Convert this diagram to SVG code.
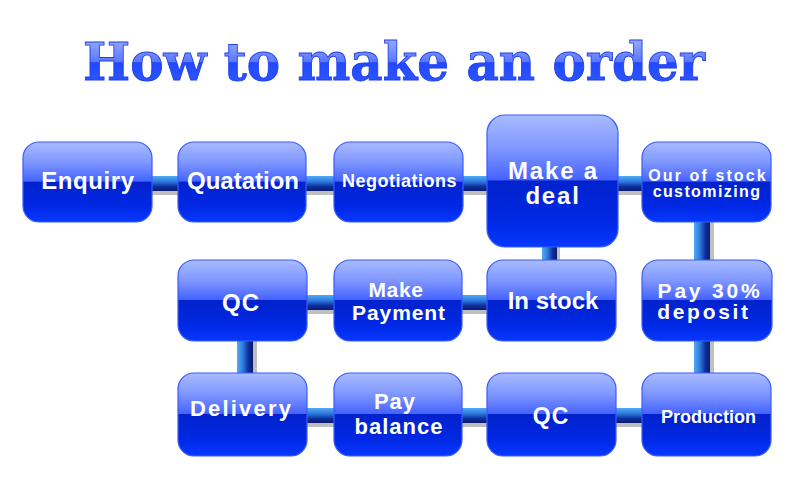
<svg xmlns="http://www.w3.org/2000/svg" width="800" height="500" viewBox="0 0 800 500">
<defs>
<linearGradient id="gNode" x1="0" y1="0" x2="0" y2="1">
<stop offset="0" stop-color="#a9bbff"/>
<stop offset="0.25" stop-color="#8098ff"/>
<stop offset="0.49" stop-color="#4563ff"/>
<stop offset="0.5" stop-color="#0222cc"/>
<stop offset="0.8" stop-color="#0028e4"/>
<stop offset="1" stop-color="#0638ff"/>
</linearGradient>
<linearGradient id="gTubeH" x1="0" y1="0" x2="0" y2="1">
<stop offset="0" stop-color="#55a8f4"/>
<stop offset="0.35" stop-color="#2f7fe2"/>
<stop offset="0.7" stop-color="#10309e"/>
<stop offset="1" stop-color="#091a72"/>
</linearGradient>
<linearGradient id="gTubeV" x1="0" y1="0" x2="1" y2="0">
<stop offset="0" stop-color="#55a8f4"/>
<stop offset="0.35" stop-color="#2f7fe2"/>
<stop offset="0.7" stop-color="#10309e"/>
<stop offset="1" stop-color="#091a72"/>
</linearGradient>
<linearGradient id="gTitle" x1="0" y1="0" x2="0" y2="1">
<stop offset="0" stop-color="#aebdff"/>
<stop offset="0.5" stop-color="#5b78ff"/>
<stop offset="0.52" stop-color="#2348ff"/>
<stop offset="1" stop-color="#2f5cff"/>
</linearGradient>
</defs>
<style>
.node rect { fill: url(#gNode); stroke: #3a5cff; stroke-width: 1.2; }
.node text { fill: #ffffff; font-family: "Liberation Sans", Arial, sans-serif; font-weight: bold; text-anchor: middle; }
.th { fill: url(#gTubeH); }
.tv { fill: url(#gTubeV); }
.sh { fill: #8a8a8a; opacity: 0.55; }
.title { font-family: "DejaVu Serif", "Liberation Serif", serif; font-weight: bold; font-size: 52px; fill: url(#gTitle); stroke: #2040e8; stroke-width: 0.9; }
</style>
<rect width="800" height="500" fill="#ffffff"/>
<text class="title" x="83" y="80" textLength="622" lengthAdjust="spacingAndGlyphs">How to make an order</text>

<g id="connectors">
<rect class="sh" x="148" y="191" width="34" height="4"/>
<rect class="th" x="148" y="176" width="34" height="15"/>
<rect class="sh" x="302" y="191" width="36" height="4"/>
<rect class="th" x="302" y="176" width="36" height="15"/>
<rect class="sh" x="459" y="191" width="32" height="4"/>
<rect class="th" x="459" y="176" width="32" height="15"/>
<rect class="sh" x="614" y="191" width="32" height="4"/>
<rect class="th" x="614" y="176" width="32" height="15"/>
<rect class="sh" x="303" y="310" width="35" height="4"/>
<rect class="th" x="303" y="295" width="35" height="15"/>
<rect class="sh" x="458" y="310" width="33" height="4"/>
<rect class="th" x="458" y="295" width="33" height="15"/>
<rect class="sh" x="303" y="423" width="35" height="4"/>
<rect class="th" x="303" y="408" width="35" height="15"/>
<rect class="sh" x="458" y="423" width="33" height="4"/>
<rect class="th" x="458" y="408" width="33" height="15"/>
<rect class="sh" x="612" y="423" width="34" height="4"/>
<rect class="th" x="612" y="408" width="34" height="15"/>
<rect class="sh" x="557" y="243" width="3" height="21"/>
<rect class="tv" x="542" y="243" width="15" height="21"/>
<rect class="sh" x="710" y="218" width="4" height="46"/>
<rect class="tv" x="694" y="218" width="16" height="46"/>
<rect class="sh" x="710" y="337" width="4" height="40"/>
<rect class="tv" x="694" y="337" width="16" height="40"/>
<rect class="sh" x="253" y="337" width="4" height="40"/>
<rect class="tv" x="237" y="337" width="16" height="40"/>
</g>

<g id="n-enquiry" class="node">
<rect x="23" y="142" width="129" height="80" rx="16"/>
<text x="88" y="189" font-size="24" letter-spacing="0.6">Enquiry</text>
</g>
<g id="n-quatation" class="node">
<rect x="178" y="142" width="128" height="80" rx="16"/>
<text x="243" y="189" font-size="24">Quatation</text>
</g>
<g id="n-negotiations" class="node">
<rect x="334" y="142" width="129" height="80" rx="16"/>
<text x="399.5" y="187" font-size="18" letter-spacing="0.5">Negotiations</text>
</g>
<g id="n-deal" class="node">
<rect x="487" y="115" width="131" height="132" rx="18"/>
<text x="553.5" y="179" font-size="24" letter-spacing="1.8">Make a</text>
<text x="553" y="204" font-size="24" letter-spacing="1.8">deal</text>
</g>
<g id="n-ourofstock" class="node">
<rect x="642" y="142" width="129" height="80" rx="16"/>
<text x="708" y="181" font-size="16" letter-spacing="2.1">Our of stock</text>
<text x="707" y="197" font-size="16" letter-spacing="1.4">customizing</text>
</g>

<g id="n-qc1" class="node">
<rect x="178" y="260" width="129" height="81" rx="16"/>
<text x="241" y="311" font-size="24" letter-spacing="1">QC</text>
</g>
<g id="n-payment" class="node">
<rect x="334" y="260" width="128" height="81" rx="16"/>
<text x="396" y="297" font-size="21" letter-spacing="0.6">Make</text>
<text x="399" y="320" font-size="21" letter-spacing="0.9">Payment</text>
</g>
<g id="n-deposit" class="node">
<rect x="642" y="260" width="130" height="81" rx="16"/>
<text x="710" y="298" font-size="21" letter-spacing="2.8">Pay 30%</text>
<text x="704" y="319" font-size="21" letter-spacing="2.7">deposit</text>
</g>
<g id="n-instock" class="node">
<rect x="487" y="260" width="129" height="81" rx="16"/>
<text x="553" y="309" font-size="24">In stock</text>
</g>

<g id="n-delivery" class="node">
<rect x="178" y="373" width="129" height="83" rx="16"/>
<text x="241.5" y="416" font-size="22" letter-spacing="2.2">Delivery</text>
</g>
<g id="n-balance" class="node">
<rect x="334" y="373" width="128" height="83" rx="16"/>
<text x="395" y="409" font-size="22" letter-spacing="1">Pay</text>
<text x="399" y="434" font-size="22" letter-spacing="1">balance</text>
</g>
<g id="n-qc2" class="node">
<rect x="487" y="373" width="129" height="83" rx="16"/>
<text x="551" y="424" font-size="23" letter-spacing="1">QC</text>
</g>
<g id="n-production" class="node">
<rect x="642" y="373" width="129" height="83" rx="16"/>
<text x="708.5" y="423" font-size="18">Production</text>
</g>
</svg>
